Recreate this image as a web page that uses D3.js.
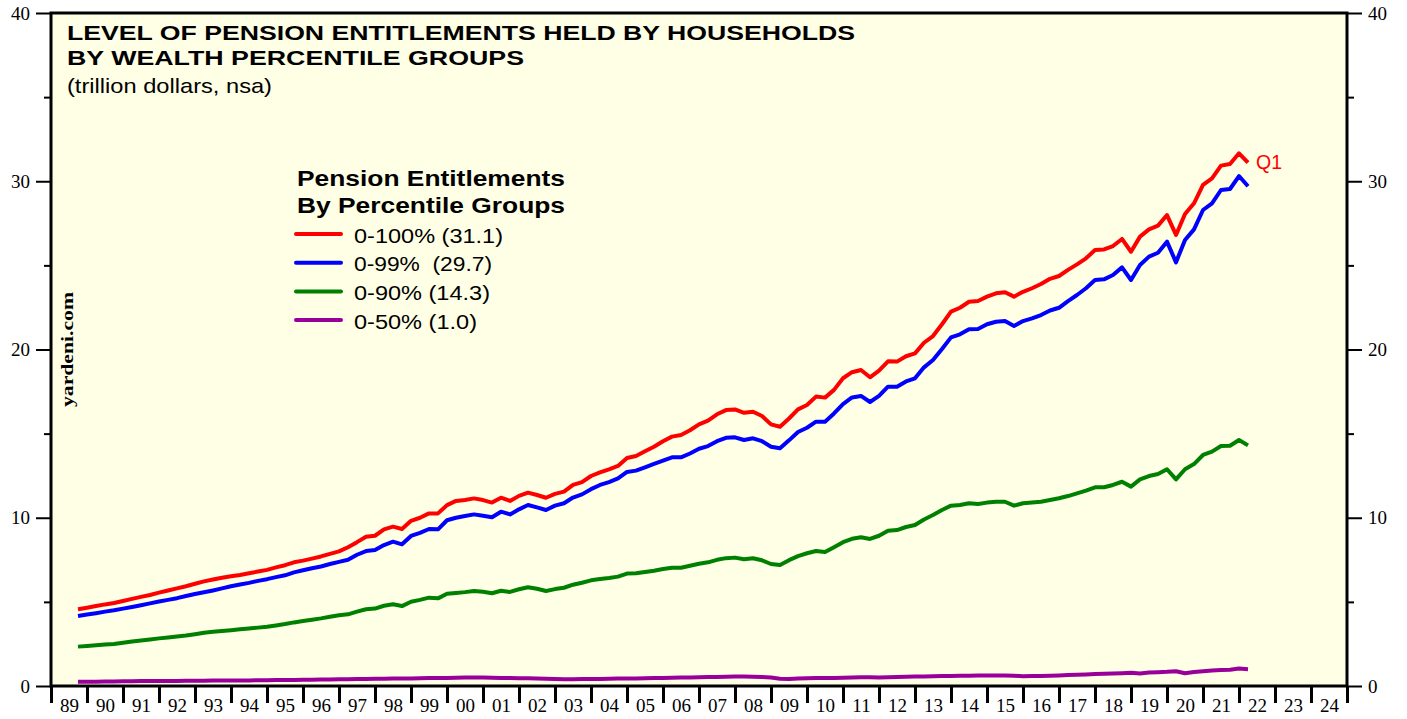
<!DOCTYPE html>
<html>
<head>
<meta charset="utf-8">
<script src="https://cdn.jsdelivr.net/npm/d3@7"></script>
<style>
  body { margin: 0; background: #fff; }
  svg { display: block; }
  text { font-family: "Liberation Sans", Arial, Helvetica, sans-serif; }
  .tick text { font-family: "Liberation Serif", "Times New Roman", serif; font-size: 19px; fill: #000; }
</style>
</head>
<body>
<svg id="chart" width="1407" height="719"></svg>
<script>
// quarterly data, first point is 1989 Q3, last is 2022 Q1 (trillion dollars)
const firstYear = 1989, firstQuarter = 3;

const pct0to100 = [
  4.56, 4.65,
  4.75, 4.85, 4.93, 5.05,   5.18, 5.30, 5.41, 5.55,   5.68, 5.80, 5.93, 6.08,
  6.22, 6.33, 6.43, 6.52,   6.60, 6.70, 6.80, 6.90,   7.05, 7.18, 7.35, 7.45,
  7.57, 7.70, 7.85, 8.00,   8.25, 8.55, 8.87, 8.93,   9.31, 9.47, 9.33, 9.82,
  10.00, 10.26, 10.26, 10.75, 11.00, 11.05, 11.15, 11.05, 10.90, 11.19, 11.00, 11.30,
  11.49, 11.35, 11.19, 11.42, 11.55, 11.95, 12.12, 12.48, 12.70, 12.88, 13.08, 13.55,
  13.67, 13.95, 14.22, 14.55, 14.82, 14.92, 15.20, 15.55, 15.77, 16.15, 16.40, 16.44,
  16.24, 16.30, 16.05, 15.55, 15.41, 15.90, 16.44, 16.70, 17.20, 17.14, 17.60, 18.29,
  18.65, 18.78, 18.35, 18.74, 19.30, 19.28, 19.60, 19.77, 20.40, 20.80, 21.50, 22.25,
  22.48, 22.84, 22.88, 23.14, 23.34, 23.40, 23.14, 23.43, 23.64, 23.89, 24.20, 24.37,
  24.73, 25.06, 25.42, 25.91, 25.95, 26.15, 26.57, 25.81, 26.71, 27.14, 27.36, 27.99,
  26.81, 28.05, 28.69, 29.78, 30.17, 30.93, 31.03, 31.66,
  31.10
];

const pct0to99 = [
  4.16, 4.25,
  4.33, 4.42, 4.50, 4.60,   4.70, 4.80, 4.91, 5.02,   5.12, 5.22, 5.35, 5.47,
  5.57, 5.68, 5.80, 5.93,   6.03, 6.13, 6.25, 6.35,   6.47, 6.58, 6.75, 6.88,
  7.00, 7.10, 7.25, 7.38,   7.50, 7.80, 8.02, 8.08,   8.38, 8.58, 8.42, 8.92,
  9.10, 9.33, 9.31, 9.85,   10.00, 10.10, 10.20, 10.12, 10.03, 10.36, 10.20, 10.50,
  10.76, 10.62, 10.46, 10.72, 10.86, 11.20, 11.39, 11.70, 11.95, 12.12, 12.34, 12.72,
  12.80, 13.00, 13.20, 13.40, 13.59, 13.59, 13.82, 14.10, 14.26, 14.55, 14.75, 14.78,
  14.62, 14.72, 14.55, 14.22, 14.13, 14.60, 15.10, 15.35, 15.71, 15.71, 16.20, 16.76,
  17.15, 17.24, 16.88, 17.24, 17.79, 17.79, 18.10, 18.29, 18.94, 19.38, 20.03, 20.72,
  20.90, 21.20, 21.22, 21.50, 21.65, 21.69, 21.40, 21.69, 21.85, 22.05, 22.32, 22.48,
  22.88, 23.24, 23.64, 24.13, 24.17, 24.43, 24.88, 24.13, 25.02, 25.52, 25.75, 26.41,
  25.18, 26.51, 27.14, 28.29, 28.69, 29.48, 29.54, 30.31,
  29.70
];

const pct0to90 = [
  2.34, 2.38,
  2.42, 2.46, 2.50, 2.57,   2.64, 2.70, 2.77, 2.83,   2.88, 2.94, 3.00, 3.08,
  3.17, 3.22, 3.27, 3.32,   3.37, 3.42, 3.47, 3.52,   3.60, 3.68, 3.78, 3.86,
  3.94, 4.02, 4.12, 4.20,   4.26, 4.42, 4.56, 4.60,   4.77, 4.86, 4.75, 5.01,
  5.12, 5.25, 5.21, 5.48,   5.53, 5.58, 5.65, 5.60,   5.51, 5.66, 5.59, 5.75,
  5.87, 5.78, 5.65, 5.76,   5.84, 6.02, 6.14, 6.28,   6.36, 6.42, 6.50, 6.68,
  6.70, 6.78, 6.85, 6.95,   7.03, 7.03, 7.15, 7.27,   7.35, 7.50, 7.60, 7.63,
  7.53, 7.59, 7.47, 7.25,   7.19, 7.48, 7.72, 7.89,   8.02, 7.96, 8.25, 8.55,
  8.75, 8.84, 8.74, 8.93,   9.23, 9.27, 9.45, 9.57,   9.90, 10.16, 10.46, 10.72,
  10.76, 10.86, 10.82, 10.90, 10.95, 10.95, 10.72, 10.86, 10.90, 10.95, 11.05, 11.16,
  11.29, 11.45, 11.61, 11.81, 11.81, 11.95, 12.14, 11.85, 12.28, 12.48, 12.60, 12.88,
  12.28, 12.88, 13.19, 13.73, 13.93, 14.26, 14.28, 14.62,
  14.30
];

const pct0to50 = [
  0.25, 0.26,
  0.26, 0.27, 0.27, 0.28,   0.28, 0.29, 0.29, 0.30,   0.30, 0.30, 0.31, 0.31,
  0.31, 0.32, 0.32, 0.33,   0.33, 0.33, 0.34, 0.34,   0.35, 0.35, 0.36, 0.37,
  0.37, 0.38, 0.39, 0.40,   0.40, 0.41, 0.42, 0.43,   0.43, 0.44, 0.45, 0.44,
  0.46, 0.47, 0.48, 0.48,   0.49, 0.50, 0.50, 0.50,   0.49, 0.48, 0.48, 0.46,
  0.46, 0.45, 0.43, 0.41,   0.40, 0.40, 0.41, 0.42,   0.42, 0.43, 0.44, 0.44,
  0.45, 0.46, 0.47, 0.48,   0.49, 0.50, 0.51, 0.52,   0.53, 0.54, 0.55, 0.56,
  0.56, 0.55, 0.54, 0.50,   0.43, 0.41, 0.44, 0.46,   0.47, 0.48, 0.47, 0.49,
  0.51, 0.52, 0.52, 0.50,   0.52, 0.54, 0.55, 0.56,   0.57, 0.58, 0.59, 0.60,
  0.61, 0.61, 0.62, 0.62,   0.62, 0.62, 0.61, 0.58,   0.59, 0.60, 0.61, 0.63,
  0.65, 0.67, 0.69, 0.71,   0.73, 0.74, 0.76, 0.79,   0.74, 0.80, 0.82, 0.84,
  0.88, 0.76, 0.83, 0.87,   0.92, 0.95, 0.97, 1.04,
  1.00
];

const seriesLabels = ["0-100% (31.1)", "0-99%  (29.7)", "0-90% (14.3)", "0-50% (1.0)"];
const yTicks = [0, 10, 20, 30, 40];
const yMinorTicks = [5, 15, 25, 35];
const yearLabels = ["89","90","91","92","93","94","95","96","97","98","99","00",
  "01","02","03","04","05","06","07","08","09","10","11","12",
  "13","14","15","16","17","18","19","20","21","22","23","24"];

// styles
const lineColors = ["#ff0000", "#0000ff", "#008000", "#990099"];
const legendWidths = [149, 138, 136, 123];

const svg = d3.select("#chart");
const margin = { left: 51, right: 60, top: 13, bottom: 33 };
const W = 1407, H = 719;

const years = d3.range(firstYear, firstYear + yearLabels.length + 1);
const x = d3.scaleLinear()
  .domain([firstYear, firstYear + yearLabels.length])
  .range([margin.left, W - margin.right]);
const y = d3.scaleLinear().domain([0, 40]).range([H - margin.bottom, margin.top]);

// quarters plotted at end of quarter
const qTime = i => firstYear + (firstQuarter + i) / 4;

// plot background
svg.append("rect")
  .attr("x", x.range()[0]).attr("y", y(40))
  .attr("width", x.range()[1] - x.range()[0])
  .attr("height", y(0) - y(40))
  .attr("fill", "#ffffe6");

// left axis
svg.append("g").attr("transform", `translate(${x.range()[0]},0)`)
  .call(d3.axisLeft(y).tickValues(yTicks).tickSize(15).tickPadding(6))
  .call(g => g.select(".domain").remove())
  .call(g => g.selectAll("line").attr("stroke-width", 2));
svg.append("g").attr("transform", `translate(${x.range()[0]},0)`)
  .call(d3.axisLeft(y).tickValues(yMinorTicks).tickSize(7).tickFormat(""))
  .call(g => g.select(".domain").remove())
  .call(g => g.selectAll("line").attr("stroke-width", 2));

// right axis
svg.append("g").attr("transform", `translate(${x.range()[1]},0)`)
  .call(d3.axisRight(y).tickValues(yTicks).tickSize(15).tickPadding(6))
  .call(g => g.select(".domain").remove())
  .call(g => g.selectAll("line").attr("stroke-width", 2));
svg.append("g").attr("transform", `translate(${x.range()[1]},0)`)
  .call(d3.axisRight(y).tickValues(yMinorTicks).tickSize(7).tickFormat(""))
  .call(g => g.select(".domain").remove())
  .call(g => g.selectAll("line").attr("stroke-width", 2));

// bottom axis: year ticks, labels centred in each year
svg.append("g").attr("transform", `translate(0,${y(0)})`)
  .call(d3.axisBottom(x).tickValues(years).tickSize(17).tickFormat(""))
  .call(g => g.select(".domain").remove())
  .call(g => g.selectAll("line").attr("stroke-width", 3));
svg.append("g").attr("transform", `translate(0,${y(0)})`)
  .call(d3.axisBottom(x).tickValues(years.slice(0, -1).map(v => v + 0.5))
    .tickSize(0).tickPadding(12.5).tickFormat((d, i) => yearLabels[i]))
  .call(g => g.select(".domain").remove());

// frame
svg.append("rect")
  .attr("x", x.range()[0]).attr("y", y(40))
  .attr("width", x.range()[1] - x.range()[0])
  .attr("height", y(0) - y(40))
  .attr("fill", "none").attr("stroke", "#000").attr("stroke-width", 3);

// lines
const allSeries = [pct0to100, pct0to99, pct0to90, pct0to50];
const line = d3.line().x((d, i) => x(qTime(i))).y(d => y(d));
svg.append("g").selectAll("path")
  .data(allSeries)
  .join("path")
  .attr("d", d => line(d))
  .attr("fill", "none")
  .attr("stroke", (d, i) => lineColors[i])
  .attr("stroke-width", 4)
  .attr("stroke-linejoin", "round");

// Q1 tag at end of top line
const lastI = pct0to100.length - 1;
svg.append("text")
  .attr("x", x(qTime(lastI)) + 8).attr("y", 169)
  .attr("fill", "#ff0000").style("font-size", "20px")
  .attr("textLength", 26).attr("lengthAdjust", "spacingAndGlyphs")
  .text("Q1");

// titles
const titles = [
  { t: "LEVEL OF PENSION ENTITLEMENTS HELD BY HOUSEHOLDS", y: 40, w: 788, bold: true, s: 20 },
  { t: "BY WEALTH PERCENTILE GROUPS", y: 65, w: 457, bold: true, s: 20 },
  { t: "(trillion dollars, nsa)", y: 93, w: 205, bold: false, s: 21 }
];
svg.append("g").selectAll("text")
  .data(titles)
  .join("text")
  .attr("x", 67).attr("y", d => d.y)
  .style("font-size", d => d.s + "px")
  .style("font-weight", d => d.bold ? "bold" : "normal")
  .attr("textLength", d => d.w).attr("lengthAdjust", "spacingAndGlyphs")
  .text(d => d.t);

// legend
const legend = svg.append("g");
legend.selectAll("text.lt")
  .data(["Pension Entitlements", "By Percentile Groups"])
  .join("text").attr("class", "lt")
  .attr("x", 297).attr("y", (d, i) => 186 + i * 27)
  .style("font-size", "22px").style("font-weight", "bold")
  .attr("textLength", 268).attr("lengthAdjust", "spacingAndGlyphs")
  .text(d => d);
const items = legend.selectAll("g.item")
  .data(seriesLabels)
  .join("g").attr("class", "item")
  .attr("transform", (d, i) => `translate(0,${242.5 + i * 28.7})`);
items.append("line")
  .attr("x1", 296).attr("x2", 341).attr("y1", -8.5).attr("y2", -8.5)
  .attr("stroke", (d, i) => lineColors[i]).attr("stroke-width", 4)
  .attr("stroke-linecap", "round");
items.append("text")
  .attr("x", 354).attr("y", 0)
  .style("font-size", "20px").style("white-space", "pre")
  .attr("textLength", (d, i) => legendWidths[i]).attr("lengthAdjust", "spacingAndGlyphs")
  .text(d => d);

// watermark
svg.append("text")
  .attr("transform", "translate(73,407) rotate(-90)")
  .style("font-family", '"Liberation Serif", "Times New Roman", serif')
  .style("font-size", "16px").style("font-weight", "bold")
  .attr("textLength", 115).attr("lengthAdjust", "spacingAndGlyphs")
  .text("yardeni.com");
</script>
</body>
</html>
